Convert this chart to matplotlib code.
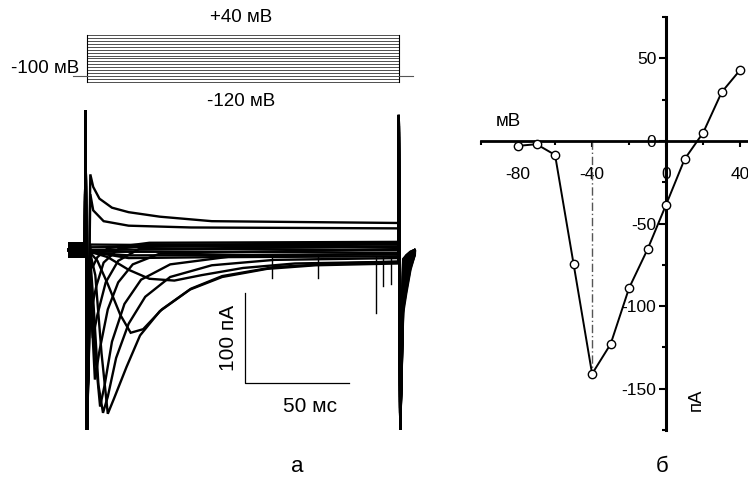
import matplotlib.pyplot as plt
from matplotlib.ticker import MultipleLocator, FixedLocator

plt.rcParams["font.family"] = ["Liberation Sans", "DejaVu Sans"]

W, H = 748, 483

# --- panel a: voltage protocol (mV) ---
step_levels = list(range(-120, 50, 10))
holding_mv = -100
pulse_ms = [0, 150]
holding_ms = [-6.5, 156.5]

# --- panel a: current traces (t in ms, I in pA), knots ---
pre_t = [-9.0, -1.0]
pre_noise_pa = 9
cap_on_t = [-0.7, 0.0]
cap_on_i = [155, -200]
cap_off_t = [149.9, 150.6]
cap_off_i = [150, -200]
tail_t = [152.0, 153.5, 155.5, 157.5]

tr_m120_t = [1.6, 60, 149.6]
tr_m120_i = [6, 5, 6]
tr_m110_t = [1.6, 60, 149.6]
tr_m110_i = [3, 4, 3]
tr_m100_t = [1.6, 60, 149.6]
tr_m100_i = [0, 1, 0]
tr_m90_t = [1.6, 60, 149.6]
tr_m90_i = [-2, -2, -3]
tr_m80_t = [1.6, 20, 149.6]
tr_m80_i = [-3, -6, -5]
tr_m70_t = [1.6, 20, 60, 149.6]
tr_m70_i = [-2, -9, -8, -7]
tr_m60_t = [1.6, 10, 20, 30, 42, 55, 75, 100, 149.6]
tr_m60_i = [-2, -8, -22, -32, -34, -28, -20, -15, -13]
tr_m50_t = [1.6, 5, 10, 16, 21, 27, 36, 50, 65, 90, 120, 149.6]
tr_m50_i = [-3, -12, -38, -72, -92, -88, -66, -43, -29, -19, -15, -13]
tr_m40_t = [1.6, 4, 7, 10, 13, 19, 25.5, 35, 49.5, 65, 86.5, 110, 149.6]
tr_m40_i = [-4, -28, -115, -182, -165, -130, -95, -68, -44, -30, -21, -17, -15]
tr_m30_t = [1.6, 3, 5.5, 7.7, 10, 14, 20, 28, 40, 60, 90, 149.6]
tr_m30_i = [-10, -55, -150, -181, -163, -120, -82, -52, -30, -17, -11, -9]
tr_m20_t = [1.6, 3.5, 6.3, 8.5, 12, 18, 26, 40, 70, 149.6]
tr_m20_i = [-18, -105, -174, -150, -102, -60, -33, -16, -7, -4]
tr_m10_t = [1.6, 3.8, 6, 10, 15, 22, 35, 149.6]
tr_m10_i = [-45, -144, -112, -66, -36, -16, -4, 1]
tr_0_t = [1.6, 2.8, 5, 9, 15, 25, 149.6]
tr_0_i = [-55, -98, -72, -36, -12, 1, 4]
tr_p10_t = [1.6, 2.5, 4.5, 8, 15, 30, 149.6]
tr_p10_i = [-40, -62, -40, -14, 1, 6, 7]
tr_p20_t = [1.6, 2.5, 5, 10, 30, 149.6]
tr_p20_i = [-10, -20, -8, 2, 8, 9]
tr_p30_t = [1.6, 3, 8, 20, 50, 149.6]
tr_p30_i = [62, 44, 32, 27, 25, 24]
tr_p40_t = [1.6, 3, 6, 12, 20, 35, 60, 149.6]
tr_p40_i = [84, 70, 57, 47, 42, 37, 32, 30]

tails_i = [
    [-10, -6, -2, 0], [-12, -6, -2, 0], [-14, -8, -3, 0], [-16, -9, -3, 0],
    [-20, -11, -4, 0], [-24, -14, -5, -1], [-30, -18, -7, -2], [-40, -25, -10, -3],
    [-52, -33, -14, -4], [-60, -40, -18, -5], [-66, -45, -20, -6], [-70, -48, -22, -6],
    [-64, -42, -18, -5], [-55, -36, -15, -4], [-45, -28, -12, -3], [-35, -22, -9, -2],
    [-28, -17, -7, -2],
]

spike_t = [89, 111, 139, 142.4, 146]
spike_i = [-31, -31, -70, -40, -38]

traces = [
    (tr_m120_t, tr_m120_i), (tr_m110_t, tr_m110_i), (tr_m100_t, tr_m100_i),
    (tr_m90_t, tr_m90_i), (tr_m80_t, tr_m80_i), (tr_m70_t, tr_m70_i),
    (tr_m60_t, tr_m60_i), (tr_m50_t, tr_m50_i), (tr_m40_t, tr_m40_i),
    (tr_m30_t, tr_m30_i), (tr_m20_t, tr_m20_i), (tr_m10_t, tr_m10_i),
    (tr_0_t, tr_0_i), (tr_p10_t, tr_p10_i), (tr_p20_t, tr_p20_i),
    (tr_p30_t, tr_p30_i), (tr_p40_t, tr_p40_i),
]

# scale bar: 100 pA, 50 ms
bar_t0, bar_i0 = 76, -148
bar_ms, bar_pa = 50, 100

# --- panel b: I-V relation ---
iv_mv = [-80, -70, -60, -50, -40, -30, -20, -10, 0, 10, 20, 30, 40]
iv_pa = [-3, -2, -8.5, -74.5, -141, -123, -89, -65.5, -38.5, -11, 5, 29.5, 43]
peak_mv = -40
peak_pa = -141


def px_axes(fig, x0, y0, x1, y1):
    return fig.add_axes([x0 / W, 1 - y1 / H, (x1 - x0) / W, (y1 - y0) / H])


fig = plt.figure(figsize=(W / 100, H / 100), dpi=100)

# protocol
axp = px_axes(fig, 55, 25, 425, 95)
axp.set_xlim(-15.38, 162.5)
axp.set_ylim(-164.3, 74)
axp.axis("off")
for v in step_levels:
    axp.plot(pulse_ms, [v, v], color="#333333", lw=0.6)
for t in pulse_ms:
    axp.plot([t, t], [step_levels[0], step_levels[-1]], color="black", lw=0.8)
axp.plot([holding_ms[0], pulse_ms[0]], [holding_mv, holding_mv], color="#555555", lw=0.8)
axp.plot([pulse_ms[1], holding_ms[1]], [holding_mv, holding_mv], color="#555555", lw=0.8)

fig.text(241 / W, 1 - 18 / H, "+40 мВ", ha="center", va="center", fontsize=13.5)
fig.text(79 / W, 1 - 69 / H, "-100 мВ", ha="right", va="center", fontsize=13.5)
fig.text(241 / W, 1 - 102 / H, "-120 мВ", ha="center", va="center", fontsize=13.5)

# current traces
axa = px_axes(fig, 55, 95, 425, 445)
axa.set_xlim(-15.38, 162.5)
axa.set_ylim(-216.7, 172.2)
axa.axis("off")
axa.fill_between(pre_t, [-pre_noise_pa] * 2, [pre_noise_pa] * 2, color="black", lw=0)
for (tt, ii), tail in zip(traces, tails_i):
    t = pre_t + cap_on_t + tt + cap_off_t + tail_t
    i = [0, 0] + cap_on_i + ii + cap_off_i + tail
    axa.plot(t, i, color="black", lw=1.7, solid_joinstyle="miter")
for t, v in zip(spike_t, spike_i):
    axa.plot([t, t], [-8, v], color="black", lw=1.0)

axa.plot([bar_t0, bar_t0, bar_t0 + bar_ms], [bar_i0 + bar_pa, bar_i0, bar_i0],
         color="black", lw=0.9)
fig.text(228 / W, 1 - 338 / H, "100 пА", rotation=90, ha="center", va="center", fontsize=15)
fig.text(310 / W, 1 - 406 / H, "50 мс", ha="center", va="center", fontsize=15)

# panel b
axb = px_axes(fig, 481, 17, 748, 430)
axb.set_xlim(-100, 44.2)
axb.set_ylim(-175, 75)
for s in ["top", "right"]:
    axb.spines[s].set_visible(False)
axb.spines["left"].set_position(("data", 0))
axb.spines["bottom"].set_position(("data", 0))
axb.spines["left"].set_linewidth(2.2)
axb.spines["bottom"].set_linewidth(2.0)
axb.patch.set_alpha(0)

axb.xaxis.set_major_locator(FixedLocator([-80, -40, 0, 40]))
axb.xaxis.set_minor_locator(FixedLocator([-100, -60, -20, 20]))
axb.set_xticklabels(["-80", "-40", "0", "40"])
axb.yaxis.set_major_locator(FixedLocator([50, 0, -50, -100, -150]))
axb.yaxis.set_minor_locator(MultipleLocator(25))
axb.set_yticklabels(["50", "0", "-50", "-100", "-150"])
axb.tick_params(axis="x", which="major", direction="out", length=4.5, width=1.5, pad=14, labelsize=12.5)
axb.tick_params(axis="x", which="minor", direction="out", length=3, width=1.5)
axb.tick_params(axis="y", which="major", direction="out", length=5, width=1.5, pad=2, labelsize=12.5)
axb.tick_params(axis="y", which="minor", direction="out", length=3, width=1.5)

axb.plot([peak_mv, peak_mv], [0, peak_pa], color="#555555", lw=1.0,
         linestyle=(0, (6, 2, 1, 2)))
axb.plot(iv_mv, iv_pa, color="black", lw=1.4, marker="o", markersize=6,
         markerfacecolor="white", markeredgecolor="black", markeredgewidth=1.0,
         clip_on=False, zorder=5)

fig.text(508 / W, 1 - 122 / H, "мВ", ha="center", va="center", fontsize=13.5)
fig.text(696 / W, 1 - 400 / H, "пА", rotation=90, ha="center", va="center", fontsize=13.5)

fig.text(297 / W, 1 - 467 / H, "а", ha="center", va="center", fontsize=16)
fig.text(662 / W, 1 - 467 / H, "б", ha="center", va="center", fontsize=16)

fig.savefig("out.png", dpi=100)
